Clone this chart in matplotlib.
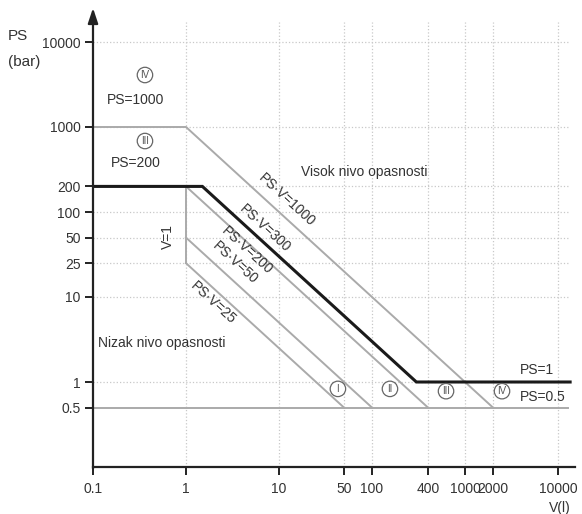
import numpy as np
import matplotlib.pyplot as plt

plt.rcParams['font.family'] = ['Liberation Sans', 'DejaVu Sans']

# tick values / labels
x_ticks = [0.1, 1, 10, 50, 100, 400, 1000, 2000, 10000]
x_labels = ['0.1', '1', '10', '50', '100', '400', '1000', '2000', '10000']
y_ticks = [0.5, 1, 10, 25, 50, 100, 200, 1000, 10000]
y_labels = ['0.5', '1', '10', '25', '50', '100', '200', '1000', '10000']

# grid positions
grid_x = [1, 10, 50, 100, 400, 1000, 2000, 10000]
grid_y = [1, 10, 25, 50, 100, 200, 1000, 10000]

# thin grey category borders (V, PS)
psv1000_v = [0.1, 1, 2000]
psv1000_ps = [1000, 1000, 0.5]
psv200_v = [1, 400]
psv200_ps = [200, 0.5]
psv50_v = [1, 100]
psv50_ps = [50, 0.5]
psv25_v = [1, 50]
psv25_ps = [25, 0.5]
v1_v = [1, 1]
v1_ps = [25, 200]
ps05_v = [0.1, 12800]
ps05_ps = [0.5, 0.5]

# thick border between low and high hazard (PS=200, PS*V=300, PS=1)
limit_v = [0.1, 1.5, 300, 13500]
limit_ps = [200, 200, 1, 1]

W, H = 582, 514
fig = plt.figure(figsize=(W / 100, H / 100), dpi=100)
ax = fig.add_axes([93 / W, 47 / H, (575 - 93) / W, (514 - 12 - 47) / H])
ax.set_xscale('log')
ax.set_yscale('log')
ax.set_xlim(0.1, 10 ** ((575 - 186) / 93))
ax.set_ylim(0.1, 10 ** ((382 - 12) / 85))

gc = '#c8c8c8'
ax.hlines(grid_y, 0.1, 12700, colors=gc, linestyles=':', lw=0.9, zorder=1)
ax.vlines(grid_x, 0.1, 17000, colors=gc, linestyles=':', lw=0.9, zorder=1)

lc = '#aaaaaa'
for vv, pp in [(psv1000_v, psv1000_ps), (psv200_v, psv200_ps), (psv50_v, psv50_ps),
               (psv25_v, psv25_ps), (v1_v, v1_ps), (ps05_v, ps05_ps)]:
    ax.plot(vv, pp, color=lc, lw=1.4, zorder=2)
ax.plot(limit_v, limit_ps, color='#1a1a1a', lw=2.2, zorder=3, solid_joinstyle='miter')

# axes
for s in ['top', 'right']:
    ax.spines[s].set_visible(False)
ax.spines['left'].set_visible(False)
ax.spines['bottom'].set_linewidth(1.6)
ax.spines['bottom'].set_color('#222222')
ax.annotate('', xy=(0.1, 10 ** ((382 - 8) / 85)), xytext=(0.1, 0.095),
            xycoords='data', annotation_clip=False,
            arrowprops=dict(arrowstyle='-|>,head_length=0.9,head_width=0.3',
                            color='#222222', lw=1.6, shrinkA=0, shrinkB=0))

ax.set_xticks(x_ticks)
ax.set_xticklabels(x_labels)
ax.set_yticks(y_ticks)
ax.set_yticklabels(y_labels)
ax.minorticks_off()
ax.tick_params(axis='both', length=6, width=1.4, color='#222222',
               labelsize=10, labelcolor='#333333')
ax.tick_params(axis='x', pad=5)
ax.tick_params(axis='y', pad=3)

tc = '#333333'
fig.text(8 / W, 1 - 36 / H, 'PS', fontsize=11, color=tc, va='center', ha='left')
fig.text(8 / W, 1 - 62 / H, '(bar)', fontsize=11, color=tc, va='center', ha='left')
ax.text(10500, 0.033, 'V(l)', fontsize=10, color=tc, ha='center', va='center', clip_on=False)

circ = dict(boxstyle='circle,pad=0.28', fc='white', ec='#666666', lw=0.9)
for x, y, s in [(0.362, 4090, 'IV'), (0.362, 684, 'III'), (43, 0.83, 'I'),
                (156, 0.83, 'II'), (625, 0.78, 'III'), (2500, 0.78, 'IV')]:
    ax.text(x, y, s, fontsize=7, color='#555555', ha='center', va='center', bbox=circ, zorder=4)

ax.text(0.29, 2080, 'PS=1000', fontsize=10, color=tc, ha='center', va='center')
ax.text(0.29, 377, 'PS=200', fontsize=10, color=tc, ha='center', va='center')
ax.text(82, 296, 'Visok nivo opasnosti', fontsize=10, color=tc, ha='center', va='center')
ax.text(0.113, 2.88, 'Nizak nivo opasnosti', fontsize=10, color=tc, ha='left', va='center')
ax.text(5940, 1.38, 'PS=1', fontsize=10, color=tc, ha='center', va='center')
ax.text(6900, 0.667, 'PS=0.5', fontsize=10, color=tc, ha='center', va='center')
ax.text(0.64, 50.8, 'V=1', fontsize=10, color=tc, ha='center', va='center', rotation=90)

ang = -np.degrees(np.arctan(85 / 93))
for x, y, s in [(12.2, 138, 'PS·V=1000'), (7.07, 64.8, 'PS·V=300'),
                (4.53, 35.7, 'PS·V=200'), (3.36, 25.1, 'PS·V=50'), (1.95, 8.5, 'PS·V=25')]:
    ax.text(x, y, s, fontsize=10, color=tc, ha='center', va='center',
            rotation=ang, rotation_mode='anchor')

fig.savefig('out.png', dpi=100)
